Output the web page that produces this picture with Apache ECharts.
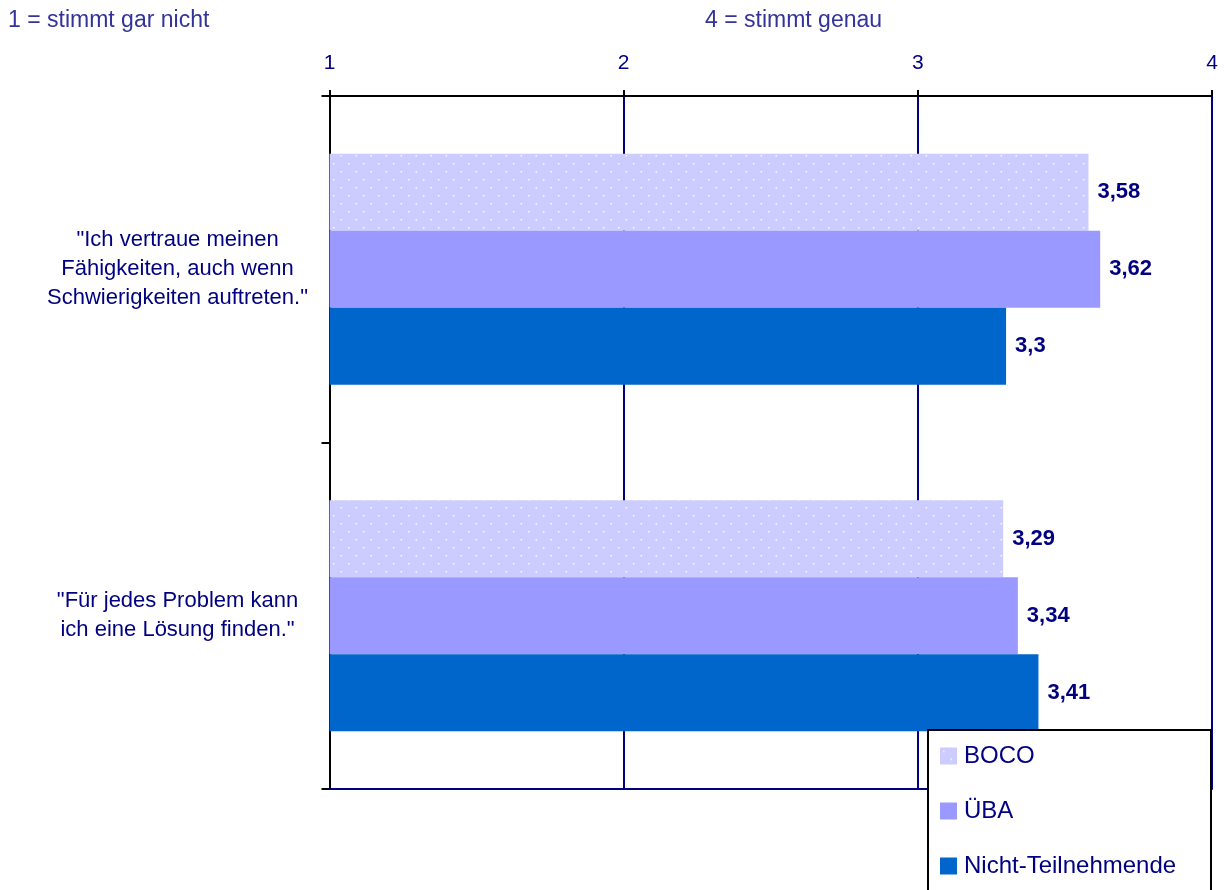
<!DOCTYPE html>
<html>
<head>
<meta charset="utf-8">
<script src="https://cdn.jsdelivr.net/npm/echarts@6/dist/echarts.min.js"></script>
<style>html,body{margin:0;padding:0;background:#fff}#c{width:1224px;height:890px}</style>
</head>
<body>
<div id="c"></div>
<script>
var categories = ['"Ich vertraue meinen\nFähigkeiten, auch wenn\nSchwierigkeiten auftreten."', '"Für jedes Problem kann\nich eine Lösung finden."'];
var seriesNames = ['BOCO', 'ÜBA', 'Nicht-Teilnehmende'];
var boco = [3.58, 3.29];
var uba = [3.62, 3.34];
var nicht = [3.3, 3.41];
var xTicks = [1, 2, 3, 4];

var font = '"Liberation Sans", Arial, sans-serif';
var navy = '#000080';

var pc = document.createElement('canvas');
pc.width = 15; pc.height = 16;
var g = pc.getContext('2d');
g.fillStyle = '#CCCCFF'; g.fillRect(0, 0, 15, 16);
g.fillStyle = 'rgba(255,255,255,0.9)';
g.fillRect(3, 3, 1.5, 1.5);
g.fillRect(10.5, 11, 1.5, 1.5);
var bocoColor = { image: pc, repeat: 'repeat' };

function fmt(p) { return String(p.value).replace('.', ','); }
var lbl = { show: true, position: 'right', distance: 9, color: navy, fontWeight: 'bold', fontSize: 22, fontFamily: font, formatter: fmt };

var chart = echarts.init(document.getElementById('c'));
chart.setOption({
  animation: false,
  backgroundColor: '#fff',
  textStyle: { fontFamily: font },
  grid: { left: 329.5, right: 12, top: 96, bottom: 101, containLabel: false },
  graphic: [
    { type: 'text', left: 8, top: 9, style: { text: '1 = stimmt gar nicht', fill: '#333399', font: '23px ' + font } },
    { type: 'text', left: 705, top: 9, style: { text: '4 = stimmt genau', fill: '#333399', font: '23px ' + font } },
    { type: 'rect', z: 3, shape: { x: 928, y: 730, width: 283, height: 200 }, style: { fill: '#fff', stroke: '#000', lineWidth: 2 } }
  ],
  xAxis: [{
    type: 'value', position: 'top', min: xTicks[0], max: xTicks[xTicks.length - 1], interval: 1,
    axisLine: { show: true, lineStyle: { color: '#000', width: 2 } },
    axisTick: { show: true, length: 6, lineStyle: { color: '#000', width: 2 } },
    axisLabel: { color: navy, fontSize: 21, fontFamily: font, margin: 22 },
    splitLine: { show: true, lineStyle: { color: navy, width: 2 } }
  }, {
    type: 'value', position: 'bottom', min: 1, max: 4, interval: 1,
    axisLine: { show: true, onZero: false, lineStyle: { color: navy, width: 2 } },
    axisTick: { show: false }, axisLabel: { show: false }, splitLine: { show: false }
  }],
  yAxis: {
    type: 'category', inverse: true, data: categories,
    axisLine: { show: true, lineStyle: { color: '#000', width: 2 } },
    axisTick: { show: true, length: 8, lineStyle: { color: '#000', width: 2 } },
    axisLabel: { color: navy, fontSize: 22, fontFamily: font, align: 'center', margin: 152, lineHeight: 29 }
  },
  legend: {
    orient: 'vertical', left: 927, top: 729, z: 5,
    padding: [14, 10, 0, 13], itemGap: 29, itemWidth: 17, itemHeight: 17,
    icon: 'rect',
    textStyle: { color: navy, fontSize: 24, fontFamily: font, lineHeight: 26, padding: [0, 0, 0, 2] },
    data: seriesNames
  },
  series: [
    { name: seriesNames[0], type: 'bar', data: boco, barGap: '0%', barCategoryGap: '33.3%', itemStyle: { color: bocoColor }, label: lbl },
    { name: seriesNames[1], type: 'bar', data: uba, barGap: '0%', barCategoryGap: '33.3%', itemStyle: { color: '#9999FF' }, label: lbl },
    { name: seriesNames[2], type: 'bar', data: nicht, barGap: '0%', barCategoryGap: '33.3%', itemStyle: { color: '#0066CC' }, label: lbl }
  ]
});
</script>
</body>
</html>
